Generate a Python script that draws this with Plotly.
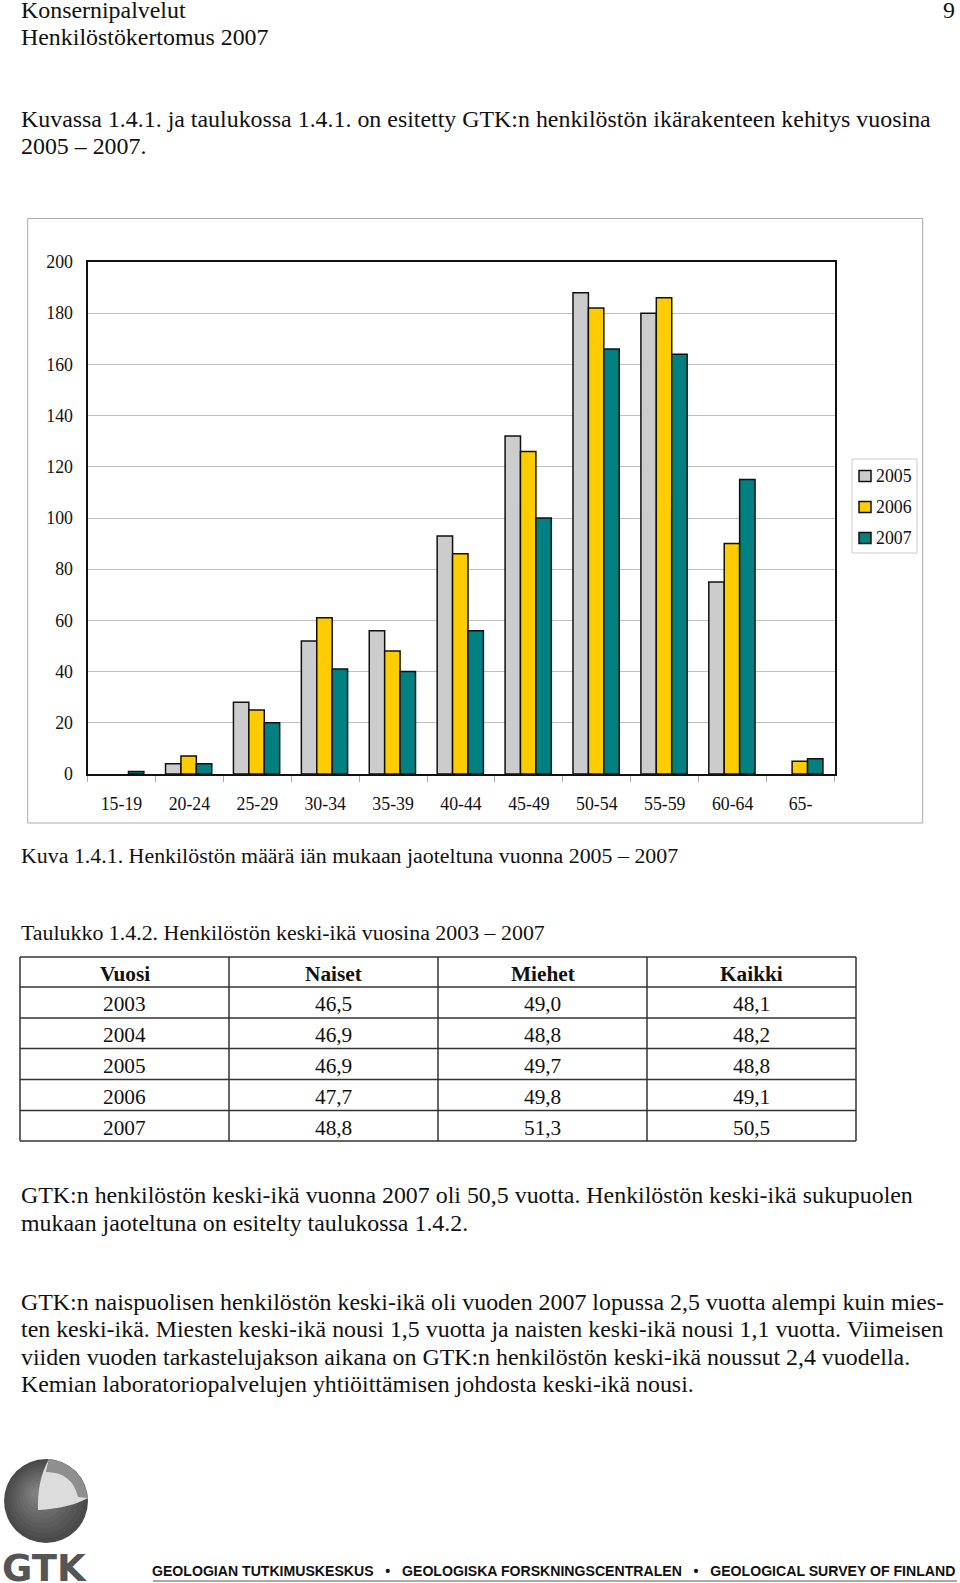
import plotly.graph_objects as go

W, H = 960, 1583
age_groups = ["15-19", "20-24", "25-29", "30-34", "35-39", "40-44", "45-49", "50-54", "55-59", "60-64", "65-"]
years = ["2005", "2006", "2007"]
values_2005 = [None, 4, 28, 52, 56, 93, 132, 188, 180, 75, None]
values_2006 = [None, 7, 25, 61, 48, 86, 126, 182, 186, 90, 5]
values_2007 = [1, 4, 20, 41, 40, 56, 100, 166, 164, 115, 6]
colors = ["#cccccc", "#ffcc00", "#008080"]

table_header = ["Vuosi", "Naiset", "Miehet", "Kaikki"]
table_years = ["2003", "2004", "2005", "2006", "2007"]
table_women = ["46,5", "46,9", "46,9", "47,7", "48,8"]
table_men = ["49,0", "48,8", "49,7", "49,8", "51,3"]
table_all = ["48,1", "48,2", "48,8", "49,1", "50,5"]

body_lines = [
    (21, 9.5, "Konsernipalvelut", 23.9),
    (21, 36.5, "Henkilöstökertomus 2007", 23.9),
    (21, 119, "Kuvassa 1.4.1. ja taulukossa 1.4.1. on esitetty GTK:n henkilöstön ikärakenteen kehitys vuosina", 23.9),
    (21, 146, "2005 – 2007.", 23.9),
    (21, 856, "Kuva 1.4.1. Henkilöstön määrä iän mukaan jaoteltuna vuonna 2005 – 2007", 21.9),
    (21, 932, "Taulukko 1.4.2. Henkilöstön keski-ikä vuosina 2003 – 2007", 21.9),
    (21, 1195, "GTK:n henkilöstön keski-ikä vuonna 2007 oli 50,5 vuotta. Henkilöstön keski-ikä sukupuolen", 23.9),
    (21, 1223, "mukaan jaoteltuna on esitelty taulukossa 1.4.2.", 23.9),
    (21, 1302, "GTK:n naispuolisen henkilöstön keski-ikä oli vuoden 2007 lopussa 2,5 vuotta alempi kuin mies-", 23.9),
    (21, 1329, "ten keski-ikä. Miesten keski-ikä nousi 1,5 vuotta ja naisten keski-ikä nousi 1,1 vuotta. Viimeisen", 23.9),
    (21, 1357, "viiden vuoden tarkastelujakson aikana on GTK:n henkilöstön keski-ikä noussut 2,4 vuodella.", 23.9),
    (21, 1384, "Kemian laboratoriopalvelujen yhtiöittämisen johdosta keski-ikä nousi.", 23.9),
]

SERIF = "Liberation Serif"
SANS = "Liberation Sans"
px = lambda x: x / W
py = lambda y: 1 - y / H

fig = go.Figure()
for name, vals, col, off in zip(years, [values_2005, values_2006, values_2007], colors, [-0.351, -0.124, 0.103]):
    fig.add_bar(x=age_groups, y=vals, name=name, width=0.227, offset=off,
                marker=dict(color=col, line=dict(color="#111111", width=1.5)))

shapes, annos = [], []


def rect(x0, y0, x1, y1, line="#aaaaaa", width=1, fill=None, layer="below"):
    shapes.append(dict(type="rect", xref="paper", yref="paper", x0=px(x0), x1=px(x1), y0=py(y0), y1=py(y1),
                       line=dict(color=line, width=width), fillcolor=fill, layer=layer))


def hvline(x0, y0, x1, y1, line="#333333", width=1.5):
    shapes.append(dict(type="line", xref="paper", yref="paper", x0=px(x0), x1=px(x1), y0=py(y0), y1=py(y1),
                       line=dict(color=line, width=width)))


def text(x, y, t, size=21.3, font=SERIF, anchor="left", color="#111111"):
    annos.append(dict(xref="paper", yref="paper", x=px(x), y=py(y), text=t, showarrow=False, xanchor=anchor,
                      yanchor="middle", font=dict(family=font, size=size, color=color), borderpad=0, borderwidth=0))


for x, y, t, s in body_lines:
    text(x, y, t, size=s)
text(955, 9.5, "9", size=23.9, anchor="right")

# chart frame and legend
rect(27.7, 218.5, 922.7, 823)
rect(852, 459, 917, 553, line="#cccccc")
for i, (name, col) in enumerate(zip(years, colors)):
    yc = 476 + i * 31
    rect(859, yc - 5.5, 871, yc + 5.5, line="#111111", width=1.5, fill=col, layer="above")
    text(876, yc, name, size=17.8)

# table
row_edges = [957, 987, 1018, 1048.5, 1079.5, 1110.5, 1141]
col_edges = [20, 229, 438, 647, 856]
for y in row_edges:
    hvline(col_edges[0], y, col_edges[-1], y)
for x in col_edges:
    hvline(x, row_edges[0], x, row_edges[-1])
centers = [(col_edges[i] + col_edges[i + 1]) / 2 for i in range(4)]
for c, t in zip(centers, table_header):
    text(c, 974, f"<b>{t}</b>", anchor="center")
for r in range(5):
    yc = (row_edges[r + 1] + row_edges[r + 2]) / 2 + 2
    for c, col_vals in zip(centers, [table_years, table_women, table_men, table_all]):
        text(c, yc, col_vals[r], anchor="center")

# logo
shades = ["#4a4a4a", "#505050", "#565656", "#5c5c5c", "#626262", "#686868", "#6e6e6e", "#747474", "#7a7a7a", "#808080"]
radii = [42, 38, 34, 30, 26, 22, 18, 14, 10, 6]
for s, r in zip(shades, radii):
    dx = (42 - r) * 0.22
    shapes.append(dict(type="circle", xref="paper", yref="paper", x0=px(46 - r - dx), x1=px(46 + r - dx),
                       y0=py(1501 + r - dx), y1=py(1501 - r - dx), line=dict(width=0), fillcolor=s))
shapes.append(dict(type="path", xref="paper", yref="paper", fillcolor="#8f8f8f", line=dict(width=0),
                   path=f"M {px(49)} {py(1459)} Q {px(82)} {py(1464)} {px(88)} {py(1498)} "
                        f"L {px(38)} {py(1510)} Z"))
shapes.append(dict(type="path", xref="paper", yref="paper", fillcolor="#dcdcdc", line=dict(width=0),
                   path=f"M {px(49)} {py(1459)} L {px(46)} {py(1472)} Q {px(72)} {py(1472)} {px(78)} {py(1497)} "
                        f"L {px(88)} {py(1498)} Q {px(70)} {py(1508)} {px(38)} {py(1510)} "
                        f"Q {px(37)} {py(1480)} {px(49)} {py(1459)} Z"))
text(2, 1568, "<b>GTK</b>", size=37, font="DejaVu Sans", color="#555555")
sep = "\u00a0\u00a0\u00a0•\u00a0\u00a0\u00a0"
text(152, 1570.5, f"<b>GEOLOGIAN TUTKIMUSKESKUS{sep}GEOLOGISKA FORSKNINGSCENTRALEN{sep}GEOLOGICAL SURVEY OF FINLAND</b>",
     size=14.1, font=SANS, color="#111111")
hvline(153, 1581, 957, 1581, line="#aaaaaa", width=2)

fig.update_layout(
    width=W, height=H, autosize=False, margin=dict(l=0, r=0, t=0, b=0, autoexpand=False),
    paper_bgcolor="white", plot_bgcolor="white",
    barmode="group", showlegend=False, shapes=shapes, annotations=annos,
    font=dict(family=SERIF, size=18, color="#111111"),
    xaxis=dict(domain=[px(87.5), px(834.5)], type="category", tickson="boundaries", ticks="outside", ticklen=6,
               tickcolor="#aaaaaa", tickwidth=1, showline=True, linecolor="#111111", linewidth=2, mirror=True,
               showgrid=False, ticklabelstandoff=13, tickfont=dict(family=SERIF, size=17.8)),
    yaxis=dict(domain=[py(774), py(262)], range=[0, 200], dtick=20, showline=True, linecolor="#111111", linewidth=2,
               mirror=True, gridcolor="#c0c0c0", gridwidth=1, ticks="", ticklabelstandoff=9, zeroline=False,
               tickfont=dict(family=SERIF, size=17.8)),
)
fig.write_html("out.html", config=dict(displayModeBar=False),
               post_script="document.body.style.margin='0';document.body.style.overflow='hidden';")
